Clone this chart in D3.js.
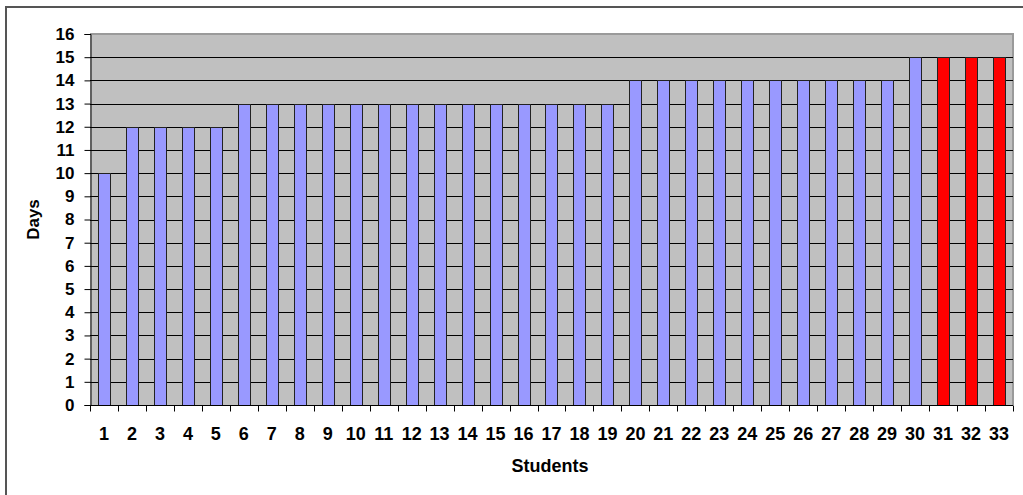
<!DOCTYPE html>
<html>
<head>
<meta charset="utf-8">
<script src="https://cdn.jsdelivr.net/npm/d3@7"></script>
<style>
  html, body { margin: 0; padding: 0; background: #fff; }
  svg { display: block; }
  text { font-family: Arial, "Liberation Sans", sans-serif; font-weight: bold; fill: #000; }
</style>
</head>
<body>
<svg id="chart" width="1023" height="495"></svg>
<script>
// Days taken per student
const students = d3.range(1, 34).map(String);
const days = [10, 12, 12, 12, 12, 13, 13, 13, 13, 13, 13, 13, 13, 13, 13, 13, 13, 13, 13,
              14, 14, 14, 14, 14, 14, 14, 14, 14, 14, 15, 15, 15, 15];
// Students highlighted in red
const highlighted = ["31", "32", "33"];
const yTicks = d3.range(0, 17);

const svg = d3.select("#chart");
const W = 1023, H = 495;
const plot = { left: 90, top: 34, right: 1013, bottom: 405 };

// Outer chart frame
svg.append("path")
  .attr("d", `M6,${H} V7 H${W}`)
  .attr("fill", "none")
  .attr("stroke", "#555")
  .attr("stroke-width", 2);

const x = d3.scaleBand().domain(students).range([plot.left, plot.right]).paddingInner(0.57).paddingOuter(0.285);
const xCat = d3.scaleBand().domain(students).range([plot.left, plot.right]);
const y = d3.scaleLinear().domain([0, 16]).range([plot.bottom, plot.top]);

// Plot background
svg.append("rect")
  .attr("x", plot.left).attr("y", plot.top)
  .attr("width", plot.right - plot.left).attr("height", plot.bottom - plot.top)
  .attr("fill", "#C0C0C0");

// Plot border (top / right)
svg.append("path")
  .attr("d", `M${plot.left},${plot.top} H${plot.right} V${plot.bottom}`)
  .attr("fill", "none").attr("stroke", "#9a9a9a").attr("stroke-width", 2);

// Horizontal gridlines
svg.append("g").selectAll("line")
  .data(yTicks.filter(d => d > 0 && d < 16))
  .join("line")
  .attr("x1", plot.left).attr("x2", plot.right)
  .attr("y1", d => Math.round(y(d)) + 0.5).attr("y2", d => Math.round(y(d)) + 0.5)
  .attr("stroke", "#000").attr("stroke-width", 1);

// Bars
svg.append("g").selectAll("rect")
  .data(students.map((s, i) => ({ s, v: days[i] })))
  .join("rect")
  .attr("x", d => Math.round(x(d.s)) + 0.5)
  .attr("y", d => Math.round(y(d.v)) + 0.5)
  .attr("width", Math.round(x.bandwidth()))
  .attr("height", d => Math.round(y(0)) - Math.round(y(d.v)))
  .attr("fill", d => highlighted.includes(d.s) ? "#FF0000" : "#9999FF")
  .attr("stroke", "#222").attr("stroke-width", 1);

// Y axis
const yAxis = svg.append("g")
  .attr("transform", `translate(${plot.left + 0.5},0)`)
  .call(d3.axisLeft(y).tickValues(yTicks).tickSize(6).tickPadding(10).tickFormat(d3.format("d")));
yAxis.select(".domain").attr("stroke", "#000");
yAxis.selectAll(".tick line").attr("stroke", "#000");
yAxis.selectAll("text").style("font-size", "17px").style("font-family", "Arial, 'Liberation Sans', sans-serif").style("font-weight", "bold");

// X axis: tick marks at category boundaries
const xg = svg.append("g").attr("transform", `translate(0,${Math.round(plot.bottom) + 0.5})`);
xg.append("line").attr("x1", plot.left).attr("x2", plot.right).attr("stroke", "#000");
xg.selectAll("line.tk")
  .data(students.concat(["end"]))
  .join("line")
  .attr("class", "tk")
  .attr("x1", (d, i) => Math.round(plot.left + i * xCat.step()) + 0.5)
  .attr("x2", (d, i) => Math.round(plot.left + i * xCat.step()) + 0.5)
  .attr("y1", 0).attr("y2", 6)
  .attr("stroke", "#000");
xg.selectAll("text")
  .data(students)
  .join("text")
  .attr("x", d => xCat(d) + xCat.bandwidth() / 2)
  .attr("y", 34)
  .attr("text-anchor", "middle")
  .style("font-size", "18px")
  .text(d => d);

// Axis titles
svg.append("text")
  .attr("transform", `translate(39,${(plot.top + plot.bottom) / 2}) rotate(-90)`)
  .attr("text-anchor", "middle")
  .style("font-size", "17px")
  .text("Days");

svg.append("text")
  .attr("x", 550)
  .attr("y", 472)
  .attr("text-anchor", "middle")
  .style("font-size", "18px")
  .text("Students");
</script>
</body>
</html>
